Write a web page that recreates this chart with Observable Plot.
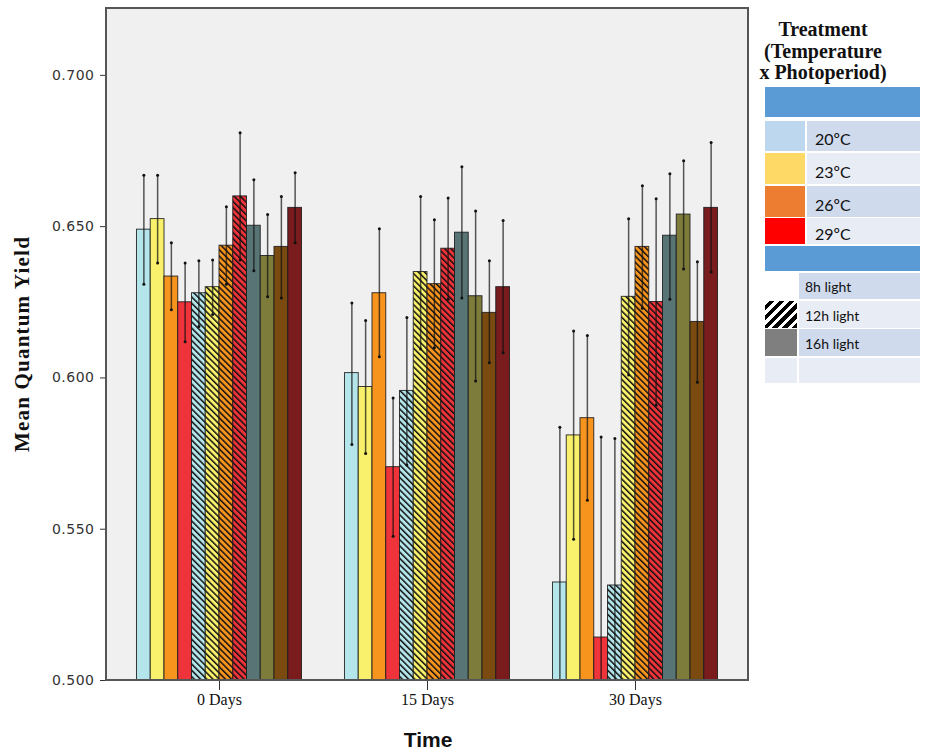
<!DOCTYPE html>
<html><head><meta charset="utf-8">
<script src="https://cdn.jsdelivr.net/npm/d3@7"></script>
<script src="https://cdn.jsdelivr.net/npm/@observablehq/plot@0.6"></script>
<style>
body{margin:0;background:#fff;}
#wrap{position:relative;width:926px;height:753px;overflow:hidden;}
#wrap svg{position:absolute;left:0;top:0;}
.ov{position:absolute;}
.ttl{font-family:"Liberation Serif",serif;font-weight:bold;font-size:20px;line-height:21.5px;text-align:center;color:#111;}
.lbl{font-family:Lato,"Liberation Sans",sans-serif;color:#111;box-sizing:border-box;}
</style></head><body><div id="wrap"></div>
<script>
// ---- data ----
const times = ["0 Days", "15 Days", "30 Days"];
const treatments = ["20ºC 8h","23ºC 8h","26ºC 8h","29ºC 8h","20ºC 12h","23ºC 12h","26ºC 12h","29ºC 12h","20ºC 16h","23ºC 16h","26ºC 16h","29ºC 16h"];
const mean0 = [0.649, 0.6525, 0.6335, 0.625, 0.628, 0.630, 0.6437, 0.660, 0.6503, 0.6403, 0.6433, 0.6562];
const hi0   = [0.667, 0.667, 0.6447, 0.638, 0.6387, 0.639, 0.6566, 0.681, 0.6655, 0.654, 0.660, 0.6678];
const lo0   = [0.631, 0.638, 0.6225, 0.612, 0.617, 0.621, 0.631, 0.639, 0.6354, 0.6268, 0.6264, 0.6447];
const mean15 = [0.6016, 0.597, 0.628, 0.5705, 0.5957, 0.635, 0.631, 0.6427, 0.648, 0.627, 0.6215, 0.630];
const hi15   = [0.6248, 0.619, 0.6493, 0.5934, 0.620, 0.660, 0.6523, 0.6595, 0.6698, 0.6552, 0.6387, 0.652];
const lo15   = [0.578, 0.575, 0.607, 0.5477, 0.5712, 0.6096, 0.610, 0.626, 0.6264, 0.599, 0.605, 0.6083];
const mean30 = [0.5324, 0.581, 0.5867, 0.5142, 0.5314, 0.6268, 0.6433, 0.6251, 0.647, 0.654, 0.6185, 0.6562];
const hi30   = [0.5837, 0.6155, 0.614, 0.5805, 0.580, 0.6526, 0.6635, 0.6592, 0.6675, 0.6718, 0.6384, 0.6778];
const lo30   = [0.481, 0.5467, 0.5596, 0.448, 0.483, 0.601, 0.623, 0.591, 0.626, 0.636, 0.5986, 0.635];
const yTicks = [0.5, 0.55, 0.6, 0.65, 0.7];
const yDomain = [0.5, 0.7221];
const tempLabels = ["20ºC", "23ºC", "26ºC", "29ºC"];
const lightLabels = ["8h light", "12h light", "16h light", ""];
const legendTitle = ["Treatment", "(Temperature", "x Photoperiod)"];

// ---- styles ----
const hatchBase = ["#b4e5ea", "#f9f16b", "#f7941e", "#ee333a"];
const fills = [...hatchBase, "url(#h0)", "url(#h1)", "url(#h2)", "url(#h3)", "#587474", "#7e7c3b", "#7a4a11", "#7a1b1e"];
const tempSw = ["#bdd7ee", "#ffd966", "#ed7d31", "#ff0000"];

const means = [mean0, mean15, mean30], his = [hi0, hi15, hi30], los = [lo0, lo15, lo30];
const rows = [];
times.forEach((t, ti) => treatments.forEach((tr, i) => rows.push({time: t, treatment: tr, mean: means[ti][i], hi: his[ti][i], lo: los[ti][i]})));

const fxPadIn = 0.2067, fxPadOut = 0.1466;
const chart = Plot.plot({
  width: 926, height: 753,
  marginLeft: 106, marginRight: 178, marginTop: 8, marginBottom: 73,
  style: {background: "transparent", fontFamily: "DejaVu Sans, sans-serif", fontSize: "14px", color: "#333"},
  facet: {data: rows, x: "time"},
  fx: {domain: times, paddingInner: fxPadIn, paddingOuter: fxPadOut, round: false, axis: "bottom", label: null, tickSize: 10, tickPadding: 3},
  x: {domain: treatments, axis: null, paddingInner: 0, paddingOuter: 0, round: false},
  y: {domain: yDomain, ticks: yTicks, tickFormat: ".3f", tickSize: 6, tickPadding: 6, label: null},
  color: {domain: treatments, range: fills},
  marks: [
    Plot.barY(rows, {x: "treatment", y1: yDomain[0], y2: "mean", fill: "treatment", stroke: "#1a1a1a", strokeWidth: 1, strokeOpacity: 0.85}),
    Plot.ruleX(rows, {x: "treatment", y1: d => Math.max(d.lo, yDomain[0]), y2: "hi", stroke: "#111", strokeWidth: 1.5, strokeOpacity: 0.7}),
    Plot.dot(rows, {x: "treatment", y: "hi", r: 1.5, fill: "#111", stroke: "none"}),
    Plot.dot(rows, {x: "treatment", y: d => d.lo > yDomain[0] ? d.lo : NaN, r: 1.5, fill: "#111", stroke: "none"})
  ]
});

// patterns + frame
const NS = "http://www.w3.org/2000/svg";
const defs = document.createElementNS(NS, "defs");
hatchBase.forEach((c, i) => {
  const p = document.createElementNS(NS, "pattern");
  p.setAttribute("id", "h" + i);
  p.setAttribute("patternUnits", "userSpaceOnUse");
  p.setAttribute("width", 4.4); p.setAttribute("height", 4.4);
  p.setAttribute("patternTransform", "rotate(-45)");
  const bg = document.createElementNS(NS, "rect");
  bg.setAttribute("width", 4.4); bg.setAttribute("height", 4.4); bg.setAttribute("fill", c);
  const ln = document.createElementNS(NS, "rect");
  ln.setAttribute("width", 1.5); ln.setAttribute("height", 4.4); ln.setAttribute("fill", "#111");
  p.appendChild(bg); p.appendChild(ln); defs.appendChild(p);
});
chart.insertBefore(defs, chart.firstChild);

let fxr = [106, 748], yr = [680, 8];
try { const s = chart.scale("fx"); if (s && s.range) fxr = s.range; } catch (e) {}
try { const s = chart.scale("y"); if (s && s.range) yr = s.range; } catch (e) {}
const bgRect = document.createElementNS(NS, "rect");
bgRect.setAttribute("x", Math.min(...fxr)); bgRect.setAttribute("y", Math.min(...yr));
bgRect.setAttribute("width", Math.abs(fxr[1] - fxr[0])); bgRect.setAttribute("height", Math.abs(yr[1] - yr[0]));
bgRect.setAttribute("fill", "#f0f0f0");
chart.insertBefore(bgRect, defs.nextSibling);
const bd = bgRect.cloneNode();
bd.setAttribute("fill", "none"); bd.setAttribute("stroke", "#555"); bd.setAttribute("stroke-width", 2);
chart.appendChild(bd);

// the y axis is anchored to the first facet; move it back to the frame edge
const n = times.length, span = Math.abs(fxr[1] - fxr[0]);
const step = span / (n - fxPadIn + 2 * fxPadOut);
const yOff = (span - step * (n - fxPadIn)) * 0.5;
const yAxes = [...chart.querySelectorAll('g[aria-label^="y-axis"]')];
yAxes.filter(g => !yAxes.some(o => o !== g && o.contains(g))).forEach(g => {
  g.setAttribute("transform", `translate(${-yOff},0) ` + (g.getAttribute("transform") || ""));
});
yAxes.forEach(g => g.querySelectorAll("text").forEach(t => { t.style.letterSpacing = "0.5px"; t.style.fill = "#333"; }));

chart.querySelectorAll('g[aria-label^="fx-axis"] text').forEach(t => {
  t.style.fontFamily = "Liberation Serif, serif"; t.style.fontSize = "16px"; t.style.fill = "#111";
});

const wrap = document.getElementById("wrap");
wrap.appendChild(chart);

function add(html, css, cls) {
  const d = document.createElement("div");
  d.className = "ov " + (cls || "");
  d.innerHTML = html; Object.assign(d.style, css); wrap.appendChild(d); return d;
}
// axis titles
add("Mean Quantum Yield", {left: "22px", top: "344px", transform: "translate(-50%,-50%) rotate(-90deg)", whiteSpace: "nowrap",
  fontFamily: "Liberation Serif, serif", fontWeight: "bold", fontSize: "21px", letterSpacing: "1.2px", color: "#111"});
add("Time", {left: "428px", top: "740px", transform: "translate(-50%,-50%)", fontFamily: "Liberation Sans, sans-serif", fontWeight: "bold", fontSize: "21px", color: "#111"});

// legend
add(legendTitle.join("<br>"), {left: "750px", top: "19px", width: "146px"}, "ttl");
add("", {left: "765px", top: "87px", width: "155px", height: "30px", background: "#5b9bd5"});
const tTops = [121, 153, 186, 218], tH = [30, 31, 31, 26];
const bgA = "#cfdaed", bgB = "#e8ecf4";
tempLabels.forEach((l, i) => {
  add("", {left: "765px", top: tTops[i] + "px", width: "40px", height: tH[i] + "px", background: tempSw[i]});
  add(l, {left: "807px", top: tTops[i] + "px", width: "113px", height: tH[i] + "px", background: i % 2 ? bgB : bgA,
    fontSize: "16px", paddingLeft: "8px", lineHeight: (tH[i] + 6) + "px"}, "lbl");
});
add("", {left: "765px", top: "246px", width: "155px", height: "25px", background: "#5b9bd5"});
const lTops = [273, 301, 329, 358], lH = [26, 27, 27, 25];
const lSw = ["#ffffff", "repeating-linear-gradient(135deg,#fff 0 3px,#000 3px 7px)", "#7f7f7f", bgB];
lightLabels.forEach((l, i) => {
  add("", {left: "765px", top: lTops[i] + "px", width: "32px", height: lH[i] + "px", background: lSw[i]});
  add(l, {left: "799px", top: lTops[i] + "px", width: "121px", height: lH[i] + "px", background: i % 2 ? bgB : bgA,
    fontSize: "14px", paddingLeft: "6px", lineHeight: (lH[i] + 2) + "px"}, "lbl");
});
</script></body></html>
